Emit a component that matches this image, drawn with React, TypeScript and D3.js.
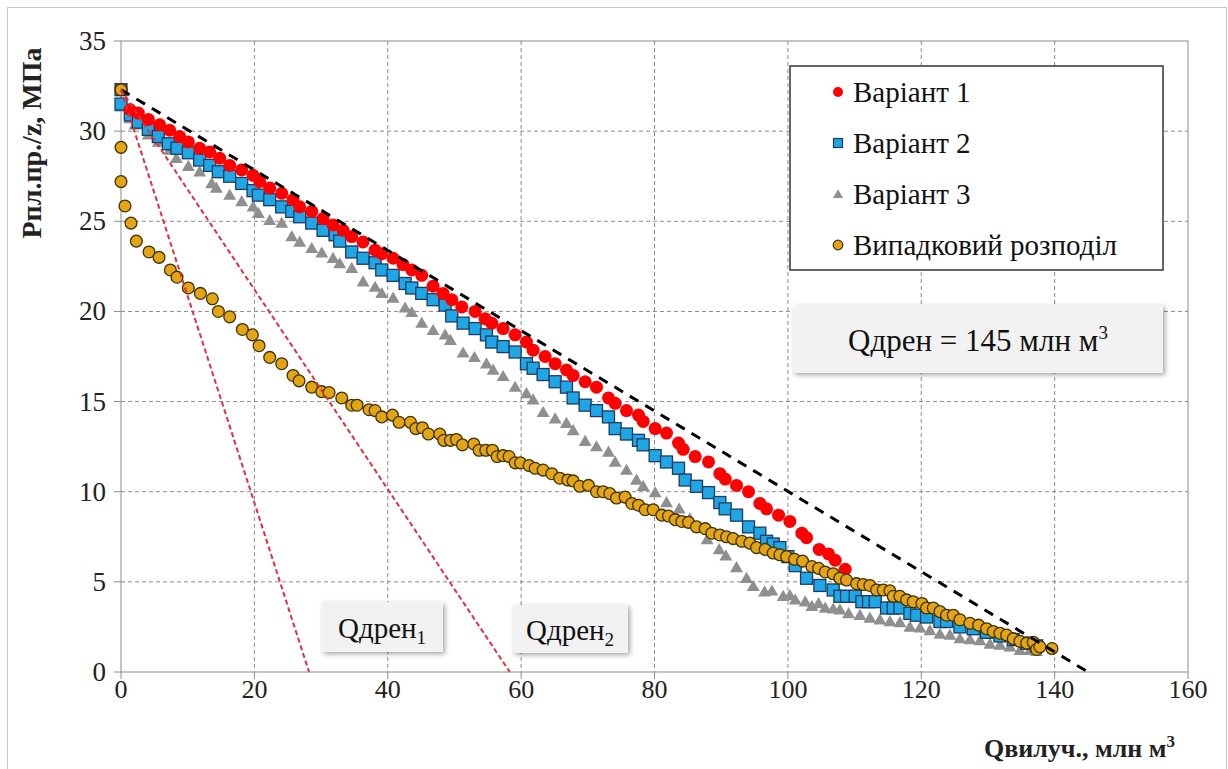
import React from "react";
import * as d3 from "d3";

// chart values (Q in mln m3, P/z in MPa)
const xTicks = [0, 20, 40, 60, 80, 100, 120, 140, 160];
const yTicks = [0, 5, 10, 15, 20, 25, 30, 35];
const seriesNames = ["Варіант 1", "Варіант 2", "Варіант 3", "Випадковий розподіл"];

const variant1: [number, number][] = [
  [0, 32.3], [1.35, 31.2], [2.6, 31.0], [4.1, 30.65], [5.8, 30.35], [7.3, 30.05], [8.8, 29.7],
  [10.1, 29.4], [11.8, 29.05], [13.3, 28.85], [14.8, 28.5], [16.3, 28.1], [18.1, 27.85],
  [19.8, 27.55], [20.8, 27.2], [22.3, 26.85], [24.1, 26.55], [25.8, 26.2], [26.8, 25.8],
  [28.6, 25.55], [30.3, 25.15], [31.8, 24.8], [33.3, 24.5], [34.6, 24.15], [36.3, 23.85],
  [38.1, 23.4], [39.1, 23.2], [40.8, 22.95], [42.3, 22.6], [43.6, 22.3], [45.1, 22.0],
  [46.8, 21.4], [48.3, 21.0], [49.6, 20.65], [51.1, 20.25], [53.1, 20.0], [54.6, 19.6],
  [55.6, 19.35], [57.3, 19.05], [59.1, 18.7], [60.8, 18.3], [61.8, 17.85], [63.6, 17.5],
  [65.1, 17.1], [66.8, 16.75], [67.8, 16.45], [69.6, 16.1], [71.3, 15.8], [73.1, 15.2],
  [74.1, 14.9], [75.8, 14.5], [77.6, 14.25], [78.3, 13.9], [80.1, 13.5], [81.8, 13.25],
  [83.6, 12.7], [84.3, 12.35], [86.1, 11.95], [88.1, 11.65], [89.8, 11.0], [90.6, 10.7],
  [92.3, 10.35], [94.1, 10.0], [95.8, 9.35], [96.8, 9.05], [98.6, 8.7], [100.3, 8.35],
  [102.1, 7.7], [102.8, 7.45], [104.7, 6.8], [106.1, 6.55], [107.1, 6.2], [108.6, 5.7],
];

const variant2: [number, number][] = [
  [0, 32.3], [0, 31.5], [1.4, 30.9], [2.6, 30.5], [4.1, 30.1], [5.6, 29.7], [7.1, 29.3],
  [8.4, 29.05], [10.1, 28.8], [11.8, 28.4], [13.3, 28.1], [14.6, 27.75], [16.3, 27.5],
  [18.1, 27.1], [19.8, 26.7], [20.6, 26.45], [22.3, 26.2], [24.1, 25.8], [25.6, 25.55],
  [26.8, 25.25], [28.6, 24.9], [30.3, 24.5], [32.1, 24.25], [32.8, 23.9], [34.6, 23.3],
  [36.3, 22.95], [38.1, 22.7], [39.1, 22.3], [40.8, 22.0], [42.6, 21.55], [43.6, 21.3],
  [45.1, 21.0], [46.8, 20.65], [48.6, 20.35], [49.6, 19.75], [51.3, 19.35], [53.1, 19.05],
  [54.8, 18.7], [55.6, 18.3], [57.3, 18.05], [59.1, 17.75], [60.8, 17.1], [61.8, 16.85],
  [63.3, 16.5], [65.1, 16.1], [66.8, 15.8], [67.8, 15.2], [69.6, 14.8], [71.3, 14.5],
  [73.1, 14.15], [74.1, 13.5], [75.8, 13.2], [77.6, 12.85], [78.3, 12.6], [80.1, 12.0],
  [81.8, 11.65], [83.6, 11.3], [84.6, 10.65], [86.3, 10.3], [88.1, 9.95], [89.8, 9.4],
  [90.6, 9.05], [92.3, 8.7], [94.1, 8.05], [95.8, 7.7], [96.8, 7.25], [97.8, 7.1],
  [98.8, 6.9], [100.0, 6.4], [101.1, 5.9], [102.8, 5.2], [104.8, 4.8], [106.8, 4.55],
  [107.8, 4.2], [108.8, 4.2], [110.1, 4.2], [111.1, 3.9], [112.1, 3.9], [113.1, 3.9],
  [114.8, 3.55], [115.8, 3.55], [116.8, 3.55], [118.3, 3.25], [119.3, 3.15], [120.8, 3.05],
  [122.8, 2.8], [123.8, 2.8], [125.8, 2.5], [127.8, 2.4], [129.8, 2.2], [131.8, 2.0],
  [133.8, 1.8], [135.8, 1.6], [137.3, 1.45],
];

const variant3: [number, number][] = [
  [0, 31.35], [1.35, 30.7], [2.1, 30.35], [4.1, 29.8], [5.6, 29.4], [7.3, 28.95], [8.3, 28.5],
  [10.1, 28.05], [11.8, 27.75], [13.6, 27.1], [14.3, 26.85], [16.3, 26.45], [18.1, 26.1],
  [19.8, 25.8], [20.6, 25.45], [22.3, 25.05], [24.1, 24.9], [25.6, 24.15], [26.8, 23.85],
  [28.6, 23.5], [30.1, 23.25], [31.8, 22.95], [32.8, 22.65], [34.6, 22.4], [36.3, 21.65],
  [38.1, 21.35], [39.1, 21.0], [40.8, 20.75], [42.6, 20.2], [43.6, 19.95], [45.1, 19.35],
  [46.8, 18.95], [48.6, 18.7], [49.4, 18.4], [51.3, 17.7], [53.0, 17.45], [54.8, 17.1],
  [55.8, 16.75], [57.3, 16.4], [59.1, 15.8], [60.8, 15.45], [61.8, 15.1], [63.3, 14.4],
  [65.1, 14.05], [66.8, 13.8], [67.8, 13.4], [69.6, 12.8], [71.3, 12.5], [73.1, 12.2],
  [74.1, 11.65], [75.8, 11.2], [77.3, 10.65], [78.3, 10.3], [80.1, 9.95], [81.8, 9.4],
  [83.7, 9.05], [85.3, 8.5], [86.6, 8.0], [87.9, 7.35], [89.7, 6.8], [90.7, 6.45],
  [92.3, 5.8], [93.8, 5.2], [94.8, 4.75], [96.5, 4.45], [97.6, 4.5], [99.3, 4.2],
  [100.3, 4.25], [101.1, 4.0], [102.6, 3.9], [103.6, 3.65], [104.6, 3.8], [105.6, 3.55],
  [106.8, 3.5], [107.8, 3.45], [109.1, 3.25], [110.8, 3.15], [112.3, 3.0], [113.8, 2.9],
  [115.3, 2.8], [116.8, 2.75], [118.3, 2.5], [119.8, 2.45], [121.3, 2.3], [122.8, 2.1],
  [124.3, 2.05], [125.8, 1.85], [127.3, 1.8], [128.8, 1.75], [130.3, 1.55], [131.8, 1.5],
  [133.3, 1.4], [134.8, 1.2], [136.3, 1.2], [137.3, 1.15],
];

const randomDist: [number, number][] = [
  [0, 32.3], [0, 29.1], [0, 27.2], [0.6, 25.85], [1.5, 24.9], [2.3, 23.9], [4.2, 23.3],
  [5.7, 23.0], [7.4, 22.3], [8.4, 21.9], [10.1, 21.3], [11.9, 21.0], [13.7, 20.7],
  [14.6, 20.0], [16.3, 19.7], [18.2, 19.0], [19.7, 18.7], [20.7, 18.1], [22.3, 17.45],
  [24.1, 17.1], [25.8, 16.45], [26.7, 16.15], [28.6, 15.8], [30.1, 15.55], [31.2, 15.5],
  [33.1, 15.2], [34.6, 14.8], [35.4, 14.8], [37.2, 14.55], [38.1, 14.5], [39.1, 14.15],
  [40.7, 14.25], [41.7, 13.85], [43.4, 13.85], [44.2, 13.5], [45.2, 13.55], [46.1, 13.2],
  [47.8, 13.2], [48.4, 12.85], [49.4, 12.85], [50.3, 12.9], [51.2, 12.6], [52.9, 12.65],
  [53.7, 12.3], [54.7, 12.3], [55.7, 12.3], [56.4, 11.95], [57.3, 12.0], [58.2, 11.95],
  [59.1, 11.6], [59.9, 11.6], [61.2, 11.45], [62.1, 11.3], [63.3, 11.2], [64.6, 11.0],
  [65.8, 10.75], [67.0, 10.65], [67.8, 10.6], [68.8, 10.3], [70.1, 10.35], [71.3, 10.0],
  [72.3, 10.0], [73.3, 9.9], [74.3, 9.65], [75.6, 9.7], [76.6, 9.35], [77.6, 9.25],
  [78.6, 9.0], [79.8, 9.0], [81.1, 8.7], [82.1, 8.65], [83.1, 8.45], [84.1, 8.35],
  [85.1, 8.3], [86.3, 8.05], [87.6, 7.95], [88.6, 7.7], [89.8, 7.6], [90.8, 7.5],
  [91.8, 7.4], [93.1, 7.25], [94.3, 7.15], [95.3, 6.9], [96.6, 6.8], [97.8, 6.6],
  [98.8, 6.5], [99.8, 6.4], [101.0, 6.25], [102.2, 6.15], [103.6, 5.85], [104.6, 5.75],
  [105.6, 5.55], [106.8, 5.45], [107.8, 5.2], [108.8, 5.1], [110.3, 4.9], [111.3, 4.85],
  [112.3, 4.8], [113.3, 4.55], [114.3, 4.55], [115.3, 4.5], [115.8, 4.2], [116.8, 4.2],
  [117.8, 4.0], [118.8, 3.9], [120.1, 3.8], [120.8, 3.55], [121.8, 3.55], [122.8, 3.35],
  [123.8, 3.15], [124.8, 3.15], [125.8, 2.9], [127.3, 2.7], [128.6, 2.6], [129.8, 2.4],
  [130.8, 2.25], [131.8, 2.15], [132.8, 2.05], [133.8, 1.85], [134.8, 1.7], [135.8, 1.6],
  [136.8, 1.65], [137.3, 1.25], [137.8, 1.4], [139.6, 1.3],
];

// straight lines: total drainage (black) and two drainage estimates (red)
const trendQ = [0, 145];
const trendP = [32.3, 0];
const drain1Q = [0, 28.2];
const drain2Q = [0, 58.3];
const drainP = [32.3, 0];
const qDrainTotal = 145;

const FONT = "'Liberation Serif', 'Times New Roman', serif";

const App = () => {
  const x = d3.scaleLinear().domain([0, 160]).range([121, 1188]);
  const y = d3.scaleLinear().domain([0, 35]).range([672, 41]);
  const [x0, x1] = x.range();
  const [y0, y1] = y.range();

  const tri = d3.symbol().type(d3.symbolTriangle).size(72)()!;
  const triLegend = d3.symbol().type(d3.symbolTriangle).size(44)()!;

  const line = (qs: number[], ps: number[]) =>
    d3.line<number>().x((q) => x(q)).y((_, i) => y(ps[i]))(qs)!;

  const legendY = [92, 143, 194, 245];

  return (
    <svg
      width={1228}
      height={769}
      style={{ position: "absolute", left: 0, top: 0, background: "#fff", fontFamily: FONT }}
    >
      <defs>
        <filter id="shadow" x="-20%" y="-30%" width="140%" height="160%">
          <feDropShadow dx="2" dy="2" stdDeviation="2.5" floodColor="#000" floodOpacity="0.35" />
        </filter>
      </defs>
      <rect x={7.5} y={7.5} width={1219} height={775} fill="#fff" stroke="#c8c8c8" />

      {/* grid */}
      {xTicks.slice(1, -1).map((t) => (
        <line key={"gx" + t} x1={x(t)} x2={x(t)} y1={y1} y2={y0} stroke="#8a8a8a" strokeDasharray="4,3" />
      ))}
      {yTicks.slice(1, -1).map((t) => (
        <line key={"gy" + t} x1={x0} x2={x1} y1={y(t)} y2={y(t)} stroke="#8a8a8a" strokeDasharray="4,3" />
      ))}
      <rect x={x0} y={y1} width={x1 - x0} height={y0 - y1} fill="none" stroke="#8c8c8c" />

      {/* ticks + labels */}
      {yTicks.map((t) => (
        <g key={"ty" + t}>
          <line x1={x0 - 7} x2={x0} y1={y(t)} y2={y(t)} stroke="#8c8c8c" />
          <text x={106} y={y(t) + 9} textAnchor="end" fontSize={27} fill="#222">
            {t}
          </text>
        </g>
      ))}
      {xTicks.map((t) => (
        <g key={"tx" + t}>
          <line x1={x(t)} x2={x(t)} y1={y0} y2={y0 + 7} stroke="#8c8c8c" />
          <text x={x(t)} y={698} textAnchor="middle" fontSize={26} fill="#222">
            {t}
          </text>
        </g>
      ))}

      {/* axis titles */}
      <text
        transform="translate(41,143) rotate(-90)"
        textAnchor="middle"
        fontSize={28}
        fontWeight="bold"
        fill="#222"
      >
        Рпл.пр./z, МПа
      </text>
      <text x={1175} y={757} textAnchor="end" fontSize={26} fontWeight="bold" fill="#222">
        Qвилуч., млн м<tspan dy={-10} fontSize={17}>3</tspan>
      </text>

      {/* series */}
      {variant3.map(([q, p], i) => (
        <path key={"v3" + i} d={tri} transform={`translate(${x(q)},${y(p) + 1})`} fill="#8f8f8f" />
      ))}
      {variant2.map(([q, p], i) => (
        <rect
          key={"v2" + i}
          x={x(q) - 6}
          y={y(p) - 6}
          width={12}
          height={12}
          fill="#1ea7e4"
          stroke="#1d3a63"
          strokeWidth={1.3}
        />
      ))}
      {variant1.map(([q, p], i) => (
        <circle key={"v1" + i} cx={x(q)} cy={y(p)} r={6.5} fill="#ff0000" />
      ))}
      {randomDist.map(([q, p], i) => (
        <circle key={"rd" + i} cx={x(q)} cy={y(p)} r={5.9} fill="#e3a514" stroke="#3f3208" strokeWidth={1.3} />
      ))}

      {/* lines */}
      <path d={line(trendQ, trendP)} stroke="#000" strokeWidth={3} strokeDasharray="10,8" fill="none" />
      <path d={line(drain1Q, drainP)} stroke="#e0303c" strokeWidth={2} strokeDasharray="5,3" fill="none" />
      <path d={line(drain2Q, drainP)} stroke="#e0303c" strokeWidth={2} strokeDasharray="5,3" fill="none" />

      {/* legend */}
      <rect x={790} y={66} width={373} height={204} fill="#fff" stroke="#333" strokeWidth={1.5} />
      {seriesNames.map((name, i) => {
        const cy = legendY[i];
        return (
          <g key={name}>
            {i === 0 && <circle cx={838} cy={cy} r={5} fill="#ff0000" />}
            {i === 1 && (
              <rect x={833.5} y={cy - 4.5} width={9} height={9} fill="#1ea7e4" stroke="#1d3a63" strokeWidth={1.2} />
            )}
            {i === 2 && <path d={triLegend} transform={`translate(838,${cy + 1})`} fill="#8f8f8f" />}
            {i === 3 && <circle cx={838} cy={cy} r={4.8} fill="#e3a514" stroke="#3f3208" strokeWidth={1.2} />}
            <text x={853} y={cy + 10} fontSize={29} fill="#111">
              {name}
            </text>
          </g>
        );
      })}

      {/* annotation boxes */}
      <rect x={793} y={305} width={370} height={68} fill="#f2f2f2" filter="url(#shadow)" />
      <text x={978} y={351} textAnchor="middle" fontSize={31} fill="#111">
        Qдрен = {qDrainTotal} млн м<tspan dy={-12} fontSize={19}>3</tspan>
      </text>

      <rect x={322} y={602} width={121} height={50} fill="#f2f2f2" filter="url(#shadow)" />
      <text x={382} y={638} textAnchor="middle" fontSize={29} fill="#111">
        Qдрен<tspan dy={6} fontSize={19}>1</tspan>
      </text>
      <rect x={513} y={605} width={115} height={48} fill="#f2f2f2" filter="url(#shadow)" />
      <text x={570} y={640} textAnchor="middle" fontSize={29} fill="#111">
        Qдрен<tspan dy={6} fontSize={19}>2</tspan>
      </text>
    </svg>
  );
};

export default App;
